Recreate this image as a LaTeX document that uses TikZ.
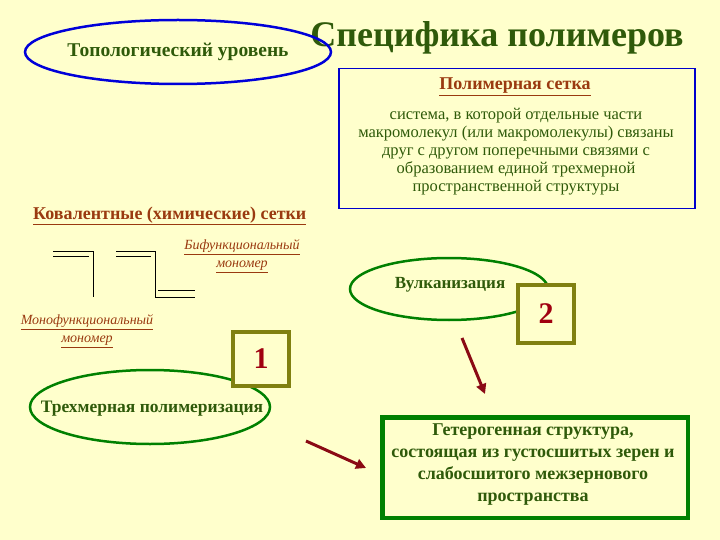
\documentclass[tikz,border=0pt]{standalone}
\usepackage{fontspec}
\setmainfont{Liberation Serif}
\usetikzlibrary{arrows.meta,shapes.geometric,calc}
\definecolor{bg}{HTML}{FFFFCC}
\definecolor{tg}{HTML}{2F5A0A}
\definecolor{br}{HTML}{9A3A10}
\definecolor{dr}{HTML}{A00010}
\definecolor{ol}{HTML}{808010}
\definecolor{gr}{HTML}{008000}
\definecolor{ar}{HTML}{8A0A14}
\newcommand{\ul}[1]{\underline{#1}}
\tikzset{
 tx/.style={text=tg,font=\bfseries\fontsize{13}{15}\selectfont,align=center,inner sep=0},
 sm/.style={text=br,font=\itshape\fontsize{14}{18}\selectfont,align=center,inner sep=0},
 numbox/.style={draw=ol,line width=4pt,fill=bg,minimum width=56pt,minimum height=54pt,text=dr,font=\bfseries\fontsize{30}{32}\selectfont},
 ell/.style={ellipse,draw=gr,line width=2.5pt},
 arr/.style={draw=ar,line width=3pt,-{Triangle[length=10pt,width=10pt]}},
 bond/.style={line width=0.8pt}
}
\begin{document}
\begin{tikzpicture}[x=1pt,y=-1pt]
\fill[bg] (0,0) rectangle (720,540);
\useasboundingbox (0,0) rectangle (720,540);
% title
\node (title) [text=tg,font=\bfseries\fontsize{36}{38}\selectfont,inner sep=0] at (497,38) {Специфика полимеров};
\node (topo) [ellipse,draw=blue!85!black,line width=2.5pt,minimum width=306pt,minimum height=64pt] at (178,52) {};
\node (topot) [tx,font=\bfseries\fontsize{19.5}{22}\selectfont] at (178,52) {Топологический уровень};
% blue box
\node (bbox) [draw=blue!80!black,line width=1.5pt,minimum width=356pt,minimum height=140pt,anchor=north west] at (338,68) {};
\node (bhead) [text=br,font=\bfseries\fontsize{18}{20}\selectfont,inner sep=0] at (515,87) {\ul{Полимерная сетка}};
\node (bbody) [tx,font=\fontsize{16.5}{18}\selectfont] at (516,152) {система, в которой отдельные части\\макромолекул (или макромолекулы) связаны\\друг с другом поперечными связями с\\образованием единой трехмерной\\пространственной структуры};
% covalent
\node (cov) [text=br,font=\bfseries\fontsize{18}{20}\selectfont,inner sep=0,anchor=west] at (33,216) {\ul{Ковалентные (химические) сетки}};
\draw[bond] (53,251)--(93,251)--(93,297);
\draw[bond] (53,256)--(89,256);
\draw[bond] (116,251)--(155,251)--(155,297)--(195,297);
\draw[bond] (116,256)--(151,256);
\draw[bond] (158,290)--(195,290);
\node (bif) [sm] at (242,256) {\ul{Бифункциональный}\\\ul{мономер}};
\node (mono) [sm] at (87,331) {\ul{Монофункциональный}\\\ul{мономер}};
% ellipses
\node (e1) [ell,minimum width=240pt,minimum height=74pt] at (150,407) {};
\node (e1t) [tx,font=\bfseries\fontsize{17.5}{20}\selectfont] at (152,409) {Трехмерная полимеризация};
\node (e2) [ell,minimum width=198pt,minimum height=62pt] at (449,289) {};
\node (e2t) [tx,font=\bfseries\fontsize{17}{20}\selectfont] at (450,285) {Вулканизация};
\node (n1) [numbox] at (261,359) {1};
\node (n2) [numbox,minimum height=58pt] at (546,314) {2};
% result box
\node (res) [draw=gr,line width=4pt,minimum width=306pt,minimum height=101pt,anchor=north west,fill=bg] at (380,415) {};
\draw[gr,line width=1pt] ($(res.north west)+(4,4)$) rectangle ($(res.south east)+(-4,-4)$);
\node (rest) [tx,font=\bfseries\fontsize{18}{22}\selectfont] at (533,465) {Гетерогенная структура,\\состоящая из густосшитых зерен и\\слабосшитого межзернового\\пространства};
% arrows
\coordinate (a1s) at (462,338);
\coordinate (a1e) at (485,394);
\coordinate (a2s) at (306,441);
\coordinate (a2e) at (366,468);
\draw[arr] (a1s)--(a1e);
\draw[arr] (a2s)--(a2e);
\end{tikzpicture}
\end{document}
